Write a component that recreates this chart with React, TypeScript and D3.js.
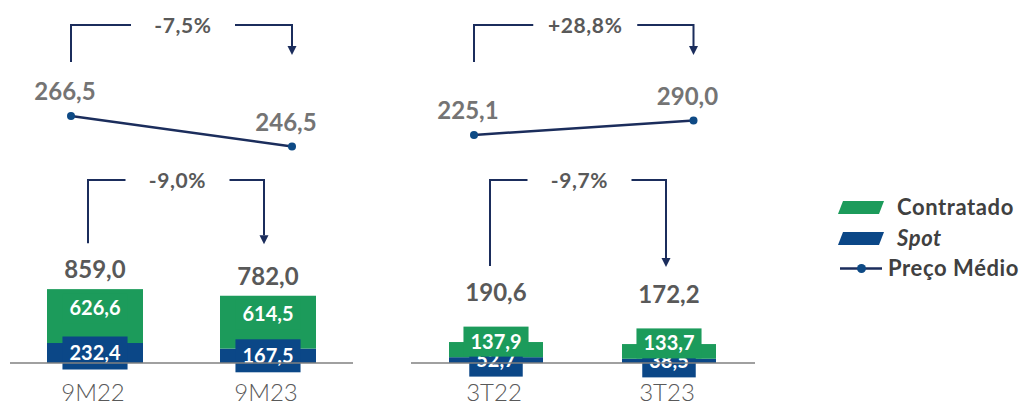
import React from "react";
import * as d3 from "d3";

// ---------- DATA ----------
const CATEGORIES_9M = ["9M22", "9M23"];
const CONTRATADO_9M = [626.6, 614.5];
const SPOT_9M = [232.4, 167.5];
const TOTAL_9M = [859.0, 782.0];
const PRICE_9M = [266.5, 246.5];
const PRICE_CHANGE_9M = "-7,5%";
const VOLUME_CHANGE_9M = "-9,0%";

const CATEGORIES_3T = ["3T22", "3T23"];
const CONTRATADO_3T = [137.9, 133.7];
const SPOT_3T = [52.7, 38.5];
const TOTAL_3T = [190.6, 172.2];
const PRICE_3T = [225.1, 290.0];
const PRICE_CHANGE_3T = "+28,8%";
const VOLUME_CHANGE_3T = "-9,7%";

const LEGEND_LABELS = ["Contratado", "Spot", "Preço Médio"];

// ---------- STYLE ----------
const W = 1026;
const H = 403;
const BASE_Y = 363;
const GREEN = "#1c9b5b";
const BLUE = "#0b4787";
const NAVY = "#1b2d5c";
const DOT = "#0e4a85";
const GRAY_NUM = "#747474";
const GRAY_DARK = "#595959";
const FONT = "Lato, 'Open Sans', sans-serif";

const fmt = (v: number) => d3.format(".1f")(v).replace(".", ",");

let _ctx: CanvasRenderingContext2D | null = null;
function textWidth(t: string, size: number, weight = "bold") {
  if (typeof document !== "undefined") {
    if (!_ctx) _ctx = document.createElement("canvas").getContext("2d");
    if (_ctx) {
      _ctx.font = `${weight} ${size}px Lato`;
      return _ctx.measureText(t).width;
    }
  }
  return t.length * size * 0.55;
}

type Layout = {
  axisX: [number, number];
  barCenters: [number, number];
  barWidth: number;
  pxPer1000: number;
  pricePointsX: [number, number];
  priceY: [number, number];
  totalOffset: number;
  bracketShift: [number, number];
};

function Bracket({ x1, x2, yTop, yLeft, yTip, label }: any) {
  const mid = (x1 + x2) / 2 + 1.5;
  const gap = 52;
  const ah = 9;
  return (
    <g>
      <path
        d={`M${x1},${yLeft}V${yTop}H${mid - gap}M${mid + gap},${yTop}H${x2}V${yTip - ah}`}
        fill="none"
        stroke={NAVY}
        strokeWidth={2}
      />
      <path d={`M${x2 - 4.5},${yTip - ah}L${x2 + 4.5},${yTip - ah}L${x2},${yTip}Z`} fill={NAVY} />
      <text
        x={mid}
        y={yTop + 7.5}
        textAnchor="middle"
        fontFamily={FONT}
        fontWeight="bold"
        fontSize={21}
        letterSpacing={0.6}
        fill={GRAY_DARK}
      >
        {label}
      </text>
    </g>
  );
}

function Panel(props: {
  cats: string[];
  contratado: number[];
  spot: number[];
  total: number[];
  price: number[];
  priceChange: string;
  volumeChange: string;
  L: Layout;
}) {
  const { cats, contratado, spot, total, price, priceChange, volumeChange, L } = props;
  const rows = cats.map((c, i) => ({ cat: c, spot: spot[i], contratado: contratado[i] }));
  const series = d3.stack<any>().keys(["spot", "contratado"])(rows);
  const x = d3.scalePoint<string>().domain(cats).range(L.barCenters);
  const y = d3.scaleLinear().domain([0, 1000]).range([BASE_Y, BASE_Y - L.pxPer1000]);
  const xp = d3.scalePoint<string>().domain(cats).range(L.pricePointsX);
  const yp = d3.scaleLinear().domain([price[0], price[1]]).range(L.priceY);
  const line = d3
    .line<number>()
    .x((_, i) => xp(cats[i]) as number)
    .y((d) => yp(d));

  const totalY = total.map((t) => y(t) - L.totalOffset);
  const colors: Record<string, string> = { spot: BLUE, contratado: GREEN };
  const labelFs = 20;

  const labelBoxes = (key: string) => {
    const s = series.find((q) => q.key === key)!;
    return s.map((d, i) => {
      const cx = x(cats[i]) as number;
      const segMid = (y(d[0]) + y(d[1])) / 2;
      const cy = key === "spot" ? segMid : segMid - 8;
      const bh = key === "spot" ? 33 : 30;
      const txt = fmt(d[1] - d[0]);
      const bw = textWidth(txt, labelFs) + 14;
      return (
        <g key={key + i}>
          <rect x={cx - bw / 2} y={cy - bh / 2} width={bw} height={bh} fill={colors[key]} />
          <text
            x={cx}
            y={cy + 7}
            textAnchor="middle"
            fontFamily={FONT}
            fontWeight="bold"
            fontSize={labelFs}
            fill="#ffffff"
          >
            {txt}
          </text>
        </g>
      );
    });
  };

  return (
    <g>
      {/* price variation bracket */}
      <Bracket
        x1={xp(cats[0])}
        x2={xp(cats[1])}
        yTop={25}
        yLeft={62}
        yTip={55}
        label={priceChange}
      />
      {/* price line */}
      <path d={line(price) || ""} fill="none" stroke={NAVY} strokeWidth={2.5} />
      {price.map((p, i) => (
        <g key={"p" + i}>
          <circle cx={xp(cats[i])} cy={yp(p)} r={4} fill={DOT} />
          <text
            x={(xp(cats[i]) as number) - 6}
            y={yp(p) - 16}
            textAnchor="middle"
            fontFamily={FONT}
            fontWeight="bold"
            fontSize={24}
            fill={GRAY_NUM}
          >
            {fmt(p)}
          </text>
        </g>
      ))}
      {/* volume variation bracket */}
      <Bracket
        x1={(x(cats[0]) as number) - L.bracketShift[0]}
        x2={(x(cats[1]) as number) - L.bracketShift[1]}
        yTop={180}
        yLeft={totalY[0] - 35}
        yTip={totalY[0] - 34}
        label={volumeChange}
      />
      {/* bars */}
      {series.map((s) =>
        s.map((d, i) => (
          <rect
            key={s.key + i}
            x={(x(cats[i]) as number) - L.barWidth / 2}
            y={y(d[1])}
            width={L.barWidth}
            height={y(d[0]) - y(d[1])}
            fill={colors[s.key]}
          />
        ))
      )}
      {labelBoxes("spot")}
      {labelBoxes("contratado")}
      {/* totals */}
      {total.map((t, i) => (
        <text
          key={"t" + i}
          x={x(cats[i])}
          y={totalY[i]}
          textAnchor="middle"
          fontFamily={FONT}
          fontWeight="bold"
          fontSize={24}
          fill={GRAY_DARK}
        >
          {fmt(t)}
        </text>
      ))}
      {/* axis line */}
      <line x1={L.axisX[0]} x2={L.axisX[1]} y1={BASE_Y} y2={BASE_Y} stroke="#808080" strokeWidth={1.5} />
      {/* categories */}
      {cats.map((c) => (
        <text
          key={c}
          x={(x(c) as number) - 2}
          y={401}
          textAnchor="middle"
          fontFamily={FONT}
          fontWeight={300}
          fontSize={24}
          fill={GRAY_DARK}
        >
          {c}
        </text>
      ))}
    </g>
  );
}

function Legend() {
  const lx = 897;
  const ys = [207.5, 238.5, 268.5];
  const para = (cy: number) =>
    `M${843},${cy - 6.5}L${884},${cy - 6.5}L${879},${cy + 6.5}L${838},${cy + 6.5}Z`;
  return (
    <g fontFamily={FONT} fontWeight="bold" fontSize={22} letterSpacing={0.6} fill="#404040">
      <path d={para(ys[0])} fill={GREEN} />
      <path d={para(ys[1])} fill={BLUE} />
      <line x1={840} x2={882} y1={ys[2]} y2={ys[2]} stroke={NAVY} strokeWidth={2.5} />
      <circle cx={861.5} cy={ys[2]} r={4.5} fill={DOT} />
      <text x={lx} y={ys[0] + 7.5}>{LEGEND_LABELS[0]}</text>
      <text x={lx} y={ys[1] + 7.5} fontStyle="italic">{LEGEND_LABELS[1]}</text>
      <text x={888} y={ys[2] + 7.5}>{LEGEND_LABELS[2]}</text>
    </g>
  );
}

export default function App() {
  const left: Layout = {
    axisX: [10, 353],
    barCenters: [95, 268],
    barWidth: 96,
    pxPer1000: 86,
    pricePointsX: [71, 292],
    priceY: [116, 146.5],
    totalOffset: 11,
    bracketShift: [7, 4],
  };
  const right: Layout = {
    axisX: [411, 755],
    barCenters: [496, 669],
    barWidth: 94,
    pxPer1000: 110,
    pricePointsX: [474, 693.5],
    priceY: [135, 120.5],
    totalOffset: 41,
    bracketShift: [6, 3],
  };
  return (
    <svg
      width={W}
      height={H}
      viewBox={`0 0 ${W} ${H}`}
      style={{ position: "absolute", left: 0, top: 0, background: "#ffffff" }}
    >
      <rect width={W} height={H} fill="#ffffff" />
      <Panel
        cats={CATEGORIES_9M}
        contratado={CONTRATADO_9M}
        spot={SPOT_9M}
        total={TOTAL_9M}
        price={PRICE_9M}
        priceChange={PRICE_CHANGE_9M}
        volumeChange={VOLUME_CHANGE_9M}
        L={left}
      />
      <Panel
        cats={CATEGORIES_3T}
        contratado={CONTRATADO_3T}
        spot={SPOT_3T}
        total={TOTAL_3T}
        price={PRICE_3T}
        priceChange={PRICE_CHANGE_3T}
        volumeChange={VOLUME_CHANGE_3T}
        L={right}
      />
      <Legend />
    </svg>
  );
}
